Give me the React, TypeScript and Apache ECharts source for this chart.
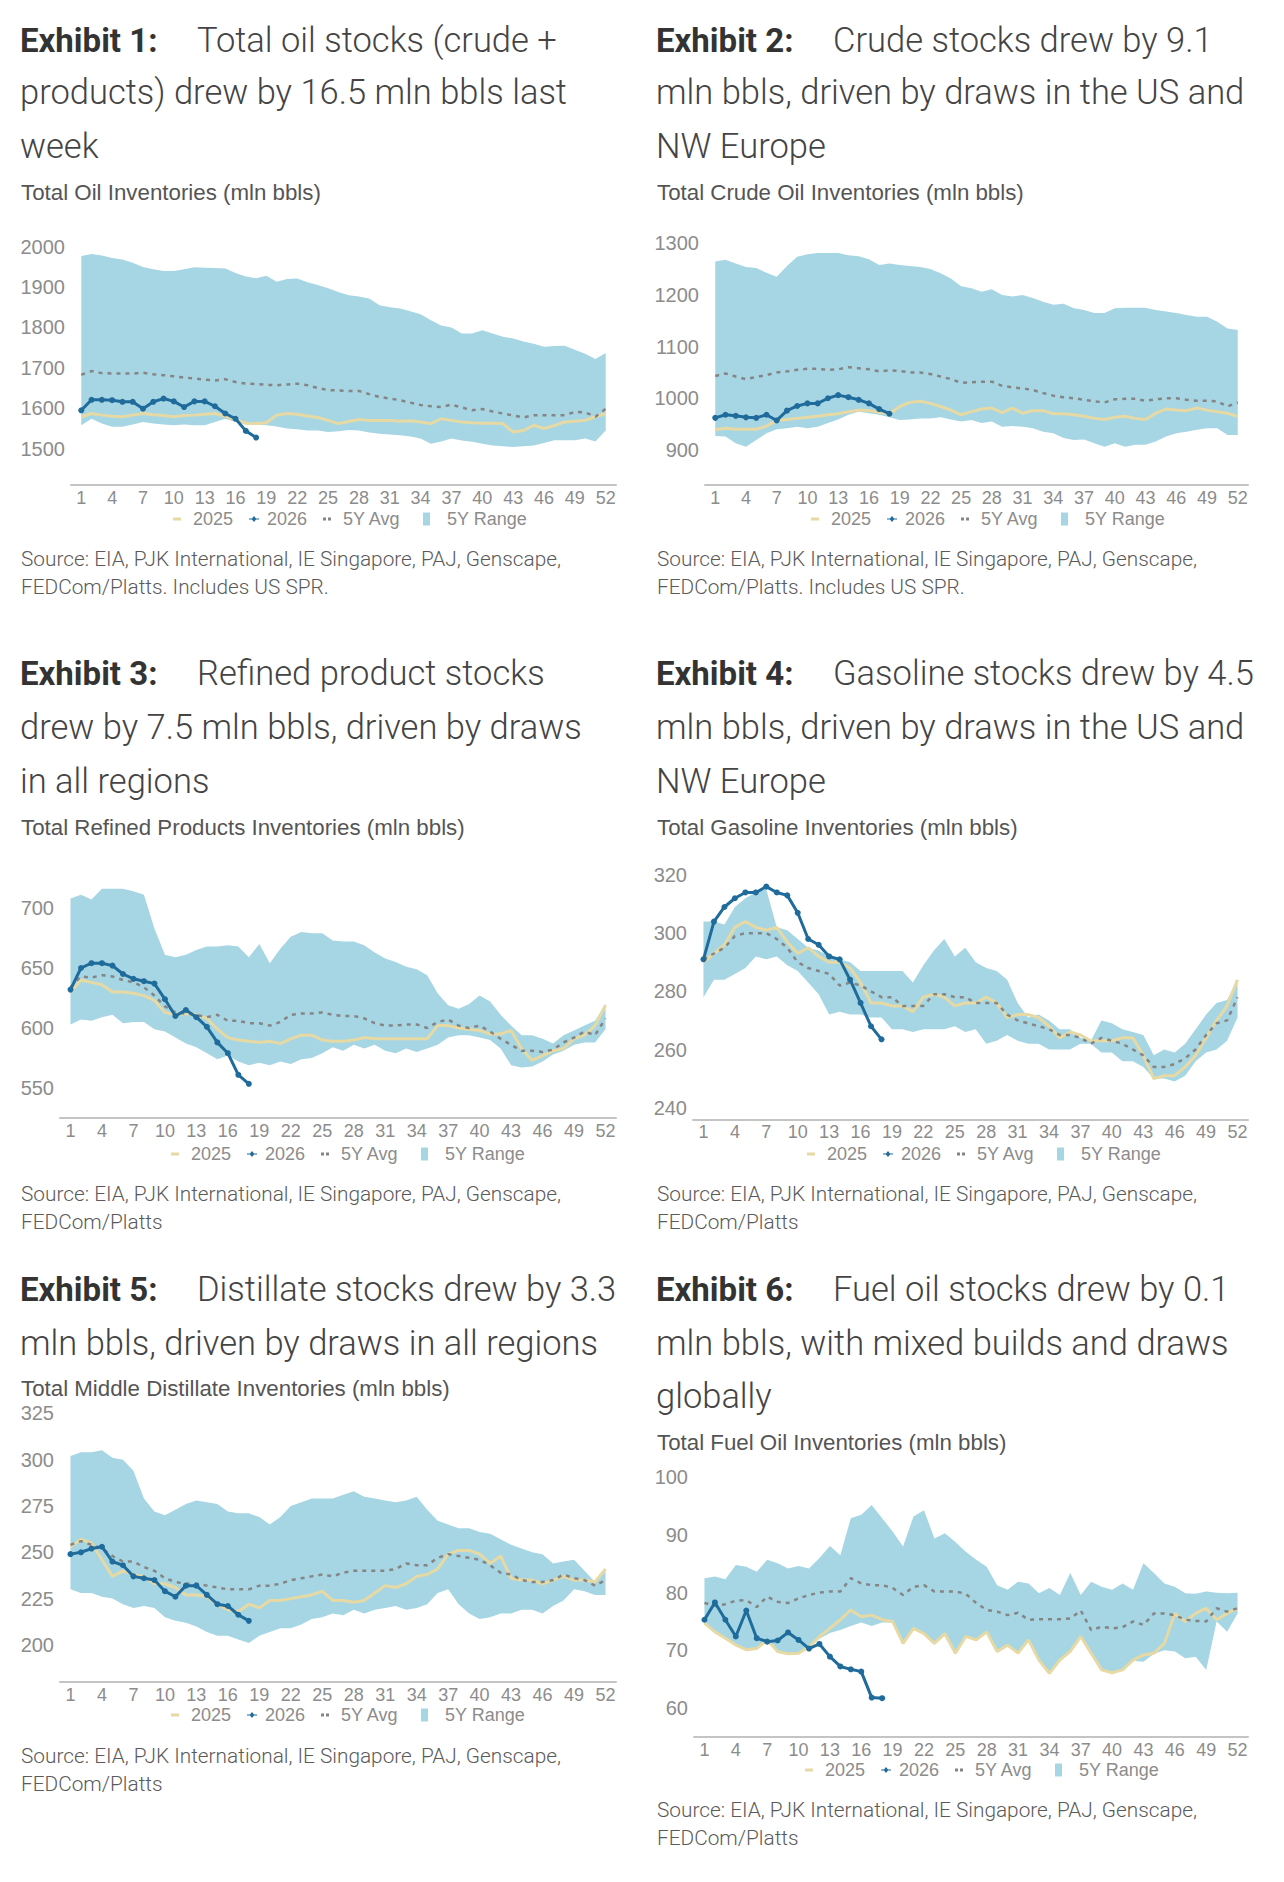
import { useEffect, useRef } from "react";
import * as echarts from "echarts";

// ---- week axis ----
const weeks = Array.from({ length: 52 }, (_, i) => i + 1);
const weekTicks = [1, 4, 7, 10, 13, 16, 19, 22, 25, 28, 31, 34, 37, 40, 43, 46, 49, 52];

// ---- Exhibit 1: total oil (mln bbls) ----
const oilTicks = [1500, 1600, 1700, 1800, 1900, 2000];
const oilHigh = [1977, 1982, 1978, 1972, 1968, 1960, 1950, 1944, 1940, 1940, 1944, 1949, 1948, 1947, 1946, 1935, 1926, 1922, 1928, 1913, 1920, 1921, 1912, 1905, 1897, 1888, 1880, 1877, 1872, 1855, 1850, 1847, 1840, 1833, 1818, 1805, 1800, 1785, 1785, 1793, 1785, 1777, 1773, 1765, 1760, 1752, 1754, 1755, 1745, 1735, 1722, 1737];
const oilLow = [1558, 1574, 1562, 1554, 1554, 1560, 1566, 1562, 1560, 1558, 1560, 1558, 1558, 1566, 1574, 1566, 1560, 1560, 1558, 1555, 1550, 1548, 1545, 1545, 1541, 1543, 1546, 1545, 1540, 1537, 1535, 1533, 1530, 1525, 1512, 1518, 1525, 1520, 1517, 1512, 1508, 1506, 1504, 1506, 1508, 1514, 1521, 1521, 1521, 1525, 1518, 1545];
const oilAvg = [1683, 1692, 1687, 1686, 1686, 1686, 1688, 1684, 1682, 1679, 1676, 1674, 1671, 1669, 1672, 1665, 1661, 1660, 1658, 1657, 1659, 1661, 1657, 1650, 1645, 1644, 1643, 1643, 1635, 1628, 1624, 1620, 1614, 1608, 1605, 1603, 1609, 1602, 1595, 1598, 1592, 1587, 1582, 1577, 1583, 1583, 1583, 1583, 1591, 1590, 1579, 1599];
const oil2025 = [1579, 1587, 1583, 1580, 1579, 1583, 1587, 1584, 1582, 1579, 1582, 1583, 1585, 1587, 1580, 1572, 1563, 1562, 1564, 1583, 1587, 1585, 1581, 1577, 1570, 1562, 1567, 1572, 1570, 1570, 1570, 1568, 1569, 1566, 1562, 1574, 1570, 1566, 1564, 1563, 1563, 1562, 1541, 1545, 1558, 1550, 1557, 1566, 1568, 1570, 1579, 1587];
const oil2026 = [1595, 1621, 1621, 1620, 1616, 1616, 1599, 1616, 1624, 1617, 1603, 1617, 1617, 1605, 1587, 1574, 1544, 1527.5];

// ---- Exhibit 2: crude ----
const crudeTicks = [900, 1000, 1100, 1200, 1300];
const crudeHigh = [1265, 1268, 1261, 1254, 1252, 1243, 1235, 1256, 1274, 1279, 1281, 1281, 1281, 1277, 1275, 1269, 1258, 1261, 1258, 1256, 1254, 1250, 1242, 1232, 1217, 1213, 1206, 1211, 1200, 1197, 1200, 1194, 1187, 1181, 1183, 1174, 1171, 1165, 1165, 1174, 1175, 1175, 1175, 1171, 1168, 1165, 1161, 1158, 1158, 1148, 1135, 1132];
const crudeLow = [927, 926, 913, 906, 919, 932, 940, 942, 945, 942, 945, 952, 959, 968, 974, 971, 968, 963, 958, 959, 961, 961, 963, 959, 955, 958, 952, 955, 945, 946, 945, 942, 935, 932, 923, 919, 920, 913, 906, 913, 906, 910, 910, 916, 926, 932, 935, 939, 942, 942, 929, 929];
const crudeAvg = [1043, 1048, 1042, 1037, 1041, 1045, 1050, 1052, 1055, 1057, 1057, 1055, 1056, 1060, 1058, 1056, 1052, 1054, 1053, 1050, 1050, 1047, 1042, 1037, 1030, 1031, 1032, 1032, 1024, 1021, 1019, 1016, 1010, 1005, 1002, 1000, 997, 994, 992, 998, 999, 999, 995, 998, 1000, 1000, 997, 995, 995, 994, 984, 992];
const crude2025 = [939, 942, 940, 940, 940, 946, 957, 959, 961, 963, 965, 968, 970, 974, 977, 976, 973, 970, 984, 992, 994, 990, 984, 977, 968, 974, 979, 981, 972, 981, 971, 976, 976, 970, 970, 968, 965, 961, 959, 963, 965, 961, 959, 971, 979, 977, 976, 981, 977, 974, 971, 965];
const crude2026 = [962, 968, 966, 963, 962, 968, 957, 976, 985, 990, 990, 1000, 1006, 1002, 997, 990, 979, 970];

// ---- Exhibit 3: refined products ----
const prodTicks = [550, 600, 650, 700];
const prodHigh = [708, 711, 707, 716, 716, 716, 714, 711, 683, 661, 659, 661, 665, 668, 668, 669, 668, 659, 670, 654, 666, 676, 680, 679, 679, 673, 672, 672, 669, 663, 658, 655, 651, 649, 644, 629, 619, 616, 620, 627, 622, 611, 602, 594, 594, 591, 587, 594, 598, 602, 606, 620];
const prodLow = [603, 607, 606, 609, 611, 604, 605, 605, 599, 597, 592, 587, 584, 579, 574, 577, 572, 569, 571, 569, 572, 570, 574, 575, 579, 584, 581, 586, 583, 586, 581, 579, 583, 580, 583, 586, 592, 594, 594, 592, 590, 583, 569, 567, 568, 572, 578, 581, 586, 588, 588, 599];
const prodAvg = [634, 643, 642, 644, 643, 640, 638, 634, 627, 618, 613, 612, 611, 609, 611, 606, 606, 604, 604, 602, 605, 611, 612, 612, 613, 611, 610, 610, 608, 604, 602, 602, 603, 603, 600, 605, 607, 602, 600, 602, 597, 591, 586, 581, 581, 580, 582, 588, 592, 597, 594, 608];
const prod2025 = [630, 640, 638, 636, 630, 630, 629, 627, 623, 613, 611, 612, 611, 608, 599, 592, 590, 589, 588, 589, 587, 591, 594, 594, 590, 589, 589, 590, 592, 591, 591, 591, 591, 591, 591, 602, 602, 600, 599, 598, 595, 595, 598, 583, 573, 577, 581, 583, 591, 594, 602, 619];
const prod2026 = [632, 650, 654, 654, 652, 645, 641, 639, 637, 624, 610, 615, 609, 601, 588, 579, 561, 553.5];

// ---- Exhibit 4: gasoline ----
const gasTicks = [240, 260, 280, 300, 320];
const gasHigh = [304, 304, 303, 309, 312, 314, 315, 302, 301, 298, 295, 294, 292, 291, 290, 287, 287, 287, 287, 287, 283, 289, 294, 298, 292, 295, 290, 288, 287, 284, 276, 271, 272, 270, 267, 267, 264, 263, 270, 269, 267, 266, 265, 258, 260, 259, 262, 267, 272, 276, 277, 284];
const gasLow = [278, 284, 284, 286, 288, 292, 291, 292, 289, 287, 283, 279, 272, 273, 272, 272, 271, 271, 267, 267, 266, 267, 267, 267, 268, 266, 267, 262, 263, 265, 263, 262, 262, 260, 260, 260, 262, 262, 259, 259, 256, 256, 254, 250, 250, 249, 251, 256, 259, 260, 263, 271];
const gasAvg = [291, 293, 295, 299, 300, 300, 300, 298, 295, 290, 288, 287, 286, 282, 283, 282, 280, 278, 278, 275, 275, 275, 279, 279, 278, 278, 276, 276, 276, 272, 270, 269, 268, 267, 265, 265, 264, 262, 264, 263, 262, 260, 258, 254, 254, 255, 257, 260, 265, 269, 270, 278];
const gas2025 = [290, 293, 296, 302, 304, 302, 301, 302, 297, 293, 295, 292, 290, 290, 288, 283, 276, 276, 275, 275, 273, 278, 279, 278, 275, 276, 276, 278, 276, 271, 272, 272, 271, 268, 264, 266, 265, 263, 263, 263, 264, 264, 258, 250, 251, 251, 254, 258, 264, 270, 275, 284];
const gas2026 = [291, 304, 309, 312, 314, 314, 316, 314, 313, 307, 298, 296, 292, 291, 284, 276, 268, 263.5];

// ---- Exhibit 5: middle distillates ----
const distTicks = [200, 225, 250, 275, 300, 325];
const distHigh = [302, 304, 304, 305, 301, 300, 294, 279, 272, 270, 273, 276, 278, 277, 276, 272, 271, 271, 269, 265, 269, 275, 277, 279, 279, 279, 281, 283, 280, 279, 278, 277, 278, 280, 273, 267, 265, 263, 263, 261, 260, 257, 254, 252, 250, 249, 244, 245, 246, 240, 234, 241];
const distLow = [230, 228, 228, 226, 225, 222, 220, 221, 220, 215, 213, 212, 210, 207, 205, 205, 203, 201, 205, 207, 209, 209, 211, 214, 215, 217, 216, 219, 217, 219, 220, 221, 219, 220, 222, 228, 230, 222, 217, 214, 215, 217, 217, 219, 219, 217, 221, 224, 230, 229, 227, 227];
const distAvg = [254, 256, 254, 252, 248, 245, 245, 242, 240, 236, 234, 233, 233, 232, 231, 230, 230, 230, 232, 232, 233, 235, 236, 237, 238, 237, 239, 240, 240, 240, 240, 241, 244, 243, 243, 247, 249, 248, 247, 246, 243, 239, 238, 235, 234, 234, 235, 238, 236, 235, 232, 235];
const dist2025 = [253, 257, 255, 246, 237, 240, 238, 237, 233, 233, 231, 227, 227, 226, 222, 219, 218, 222, 220, 224, 224, 225, 226, 227, 229, 224, 224, 223, 224, 228, 232, 231, 233, 237, 238, 241, 249, 251, 251, 249, 244, 248, 236, 235, 235, 233, 235, 237, 235, 235, 234, 241];
const dist2026 = [249, 250, 252, 253, 245, 243, 237, 236, 235, 229, 226, 232, 232, 227, 222, 221, 216.3, 213];

// ---- Exhibit 6: fuel oil ----
const fuelTicks = [60, 70, 80, 90, 100];
const fuelHigh = [82.5, 82.8, 82.3, 84.8, 84.5, 83.6, 85.7, 85.1, 84.2, 84.6, 84.2, 86.0, 88.1, 86.5, 92.9, 93.5, 95.2, 92.9, 90.6, 88.0, 93.2, 94.3, 89.4, 90.3, 88.8, 87.1, 85.7, 84.5, 81.3, 80.5, 81.9, 81.6, 79.9, 80.8, 79.6, 83.4, 79.6, 81.9, 81.0, 80.5, 81.6, 80.5, 85.1, 83.4, 81.6, 81.0, 79.9, 79.8, 80.2, 80.0, 79.9, 80.0];
const fuelLow = [74.5, 73.0, 72.0, 70.8, 70.0, 70.2, 71.6, 69.7, 69.3, 69.4, 70.5, 72.0, 73.0, 73.5, 74.2, 74.8, 74.2, 74.8, 74.8, 71.1, 73.7, 72.8, 71.1, 72.8, 69.4, 72.3, 71.7, 73.1, 69.7, 70.8, 69.4, 71.7, 68.2, 65.9, 68.2, 69.7, 72.3, 69.4, 66.5, 66.0, 66.5, 68.2, 68.0, 69.4, 70.0, 69.8, 68.6, 68.9, 66.6, 75.0, 73.2, 76.4];
const fuelAvg = [78.2, 77.7, 78.0, 78.6, 78.7, 77.5, 79.3, 78.4, 78.2, 79.0, 79.6, 80.0, 80.2, 80.2, 82.5, 81.6, 81.3, 81.3, 80.8, 79.6, 81.0, 81.3, 80.2, 80.2, 80.2, 79.8, 78.2, 77.0, 76.7, 76.1, 76.5, 75.3, 75.4, 75.4, 75.4, 75.5, 76.9, 73.5, 74.1, 73.8, 74.0, 75.0, 74.4, 76.4, 76.4, 76.1, 75.3, 75.1, 75.0, 77.3, 76.7, 77.3];
const fuel2025 = [74.7, 73.2, 72.1, 70.9, 70.1, 70.3, 71.8, 69.8, 69.4, 69.5, 70.6, 72.4, 73.8, 75.3, 77.0, 75.8, 76.1, 75.3, 75.0, 71.2, 73.8, 72.9, 71.2, 72.9, 69.5, 72.4, 71.8, 73.2, 69.8, 70.9, 69.5, 71.8, 68.3, 66.0, 68.3, 69.8, 72.4, 69.5, 66.6, 66.1, 66.6, 68.3, 69.2, 69.5, 71.2, 76.4, 75.0, 76.4, 77.3, 75.3, 76.4, 77.3];
const fuel2026 = [75.3, 78.3, 75.3, 72.4, 76.9, 72.1, 71.5, 71.7, 73.1, 71.8, 70.3, 71.1, 68.9, 67.2, 66.7, 66.3, 61.8, 61.7];

// ---- text ----
const exhibitLabels = ["Exhibit 1:", "Exhibit 2:", "Exhibit 3:", "Exhibit 4:", "Exhibit 5:", "Exhibit 6:"];
const exhibitLines = [
  ["Total oil stocks (crude +", "products) drew by 16.5 mln bbls last", "week"],
  ["Crude stocks drew by 9.1", "mln bbls, driven by draws in the US and", "NW Europe"],
  ["Refined product stocks", "drew by 7.5 mln bbls, driven by draws", "in all regions"],
  ["Gasoline stocks drew by 4.5", "mln bbls, driven by draws in the US and", "NW Europe"],
  ["Distillate stocks drew by 3.3", "mln bbls, driven by draws in all regions"],
  ["Fuel oil stocks drew by 0.1", "mln bbls, with mixed builds and draws", "globally"],
];
const chartTitles = [
  "Total Oil Inventories (mln bbls)",
  "Total Crude Oil Inventories (mln bbls)",
  "Total Refined Products Inventories (mln bbls)",
  "Total Gasoline Inventories (mln bbls)",
  "Total Middle Distillate Inventories (mln bbls)",
  "Total Fuel Oil Inventories (mln bbls)",
];
const sourceLine1 = "Source: EIA, PJK International, IE Singapore, PAJ, Genscape,";
const sourceLine2 = [
  "FEDCom/Platts. Includes US SPR.",
  "FEDCom/Platts. Includes US SPR.",
  "FEDCom/Platts",
  "FEDCom/Platts",
  "FEDCom/Platts",
  "FEDCom/Platts",
];
const legendNames = ["2025", "2026", "5Y Avg", "5Y Range"];

// ---- styling ----
const BAND = "#a6d6e3";
const C2025 = "#e6d9a4";
const C2026 = "#1f6b9b";
const CAVG = "#858585";
const AXIS_TXT = "#8c8c8c";
const LABEL_FONT = "'Liberation Sans', Arial, sans-serif";
const HEAD_FONT = "Roboto, 'Noto Sans', sans-serif";

// legend key glyphs: offset from the row start, glyph, glyph box and gap to the text
const legendKeys = [
  { dx: 0, icon: "rect", w: 8, h: 3, pad: 7 },
  { dx: 76, icon: "path://M0 2.4H3L5 0L7 2.4H10V3.6H7L5 6L3 3.6H0Z", w: 10, h: 6, pad: 3 },
  { dx: 150, icon: "path://M0 0H3V3H0Z M5 0H8V3H5Z", w: 8, h: 3, pad: 7 },
  { dx: 250, icon: "rect", w: 7, h: 13, pad: 12 },
];

type Panel = {
  col: number;
  grid: { left: number; top: number; width: number; height: number };
  yMin: number;
  yMax: number;
  yStep: number;
  ticks: number[];
  high: number[];
  low: number[];
  avg: number[];
  y25: number[];
  y26: number[];
  headY: number[];
  titleY: number;
  sourceY: number;
  legend: { left: number; midY: number };
};

const panels: Panel[] = [
  {
    col: 0, grid: { left: 71, top: 246.7, width: 545, height: 238.3 },
    yMin: 1410, yMax: 2000, yStep: 10, ticks: oilTicks,
    high: oilHigh, low: oilLow, avg: oilAvg, y25: oil2025, y26: oil2026,
    headY: [40, 92, 146], titleY: 192, sourceY: 559, legend: { left: 168, midY: 516 },
  },
  {
    col: 1, grid: { left: 705, top: 243.3, width: 543, height: 241.7 },
    yMin: 832, yMax: 1300, yStep: 4, ticks: crudeTicks,
    high: crudeHigh, low: crudeLow, avg: crudeAvg, y25: crude2025, y26: crude2026,
    headY: [40, 92, 146], titleY: 192, sourceY: 559, legend: { left: 806, midY: 516 },
  },
  {
    col: 0, grid: { left: 60, top: 878, width: 556, height: 240 },
    yMin: 525, yMax: 725, yStep: 25, ticks: prodTicks,
    high: prodHigh, low: prodLow, avg: prodAvg, y25: prod2025, y26: prod2026,
    headY: [673, 727, 781], titleY: 827, sourceY: 1194, legend: { left: 166, midY: 1151 },
  },
  {
    col: 1, grid: { left: 693, top: 875, width: 555, height: 244.3 },
    yMin: 236, yMax: 320, yStep: 4, ticks: gasTicks,
    high: gasHigh, low: gasLow, avg: gasAvg, y25: gas2025, y26: gas2026,
    headY: [673, 727, 781], titleY: 827, sourceY: 1194, legend: { left: 802, midY: 1151 },
  },
  {
    col: 0, grid: { left: 60, top: 1413.3, width: 556, height: 268.7 },
    yMin: 180, yMax: 325, yStep: 5, ticks: distTicks,
    high: distHigh, low: distLow, avg: distAvg, y25: dist2025, y26: dist2026,
    headY: [1289, 1343], titleY: 1388, sourceY: 1756, legend: { left: 166, midY: 1712 },
  },
  {
    col: 1, grid: { left: 694, top: 1477.3, width: 554, height: 259.5 },
    yMin: 55, yMax: 100, yStep: 5, ticks: fuelTicks,
    high: fuelHigh, low: fuelLow, avg: fuelAvg, y25: fuel2025, y26: fuel2026,
    headY: [1289, 1343, 1396], titleY: 1442, sourceY: 1810, legend: { left: 800, midY: 1767 },
  },
];

const colX = [20, 656];

function pairs(values: number[]) {
  return values.map((v, i) => [weeks[i], v]);
}

function buildOption() {
  const grid: any[] = [];
  const xAxis: any[] = [];
  const yAxis: any[] = [];
  const series: any[] = [];
  const legend: any[] = [];
  const graphic: any[] = [];

  panels.forEach((p, i) => {
    grid.push({ ...p.grid, containLabel: false, outerBoundsMode: "none" });
    xAxis.push({
      type: "value",
      gridIndex: i,
      min: 0,
      max: 53,
      interval: 1,
      axisLine: { show: true, lineStyle: { color: "#c4c4c4", width: 2 } },
      axisTick: { show: false },
      splitLine: { show: false },
      axisLabel: {
        margin: 4,
        fontSize: 18,
        color: AXIS_TXT,
        fontFamily: LABEL_FONT,
        formatter: (v: number) => (weekTicks.includes(v) ? String(v) : ""),
      },
    });
    yAxis.push({
      type: "value",
      gridIndex: i,
      min: p.yMin,
      max: p.yMax,
      interval: p.yStep,
      axisLine: { show: false },
      axisTick: { show: false },
      splitLine: { show: false },
      axisLabel: {
        margin: 6,
        fontSize: 20,
        color: AXIS_TXT,
        fontFamily: LABEL_FONT,
        formatter: (v: number) => (p.ticks.includes(v) ? String(v) : ""),
      },
    });

    // 5-year range band: one polygon from the high and low series
    series.push({
      type: "custom",
      name: "5Y Range",
      xAxisIndex: i,
      yAxisIndex: i,
      silent: true,
      itemStyle: { color: BAND },
      data: weeks.map((w, k) => [w, p.low[k], p.high[k]]),
      encode: { x: 0, y: [1, 2] },
      renderItem: (params: any, api: any) => {
        if (params.dataIndex !== 0) return null;
        const upper = p.high.map((v, k) => api.coord([weeks[k], v]));
        const lower = p.low.map((v, k) => api.coord([weeks[k], v])).reverse();
        return {
          type: "polygon",
          shape: { points: upper.concat(lower) },
          style: { fill: BAND },
          silent: true,
        };
      },
    });
    series.push({
      type: "line",
      name: "2025",
      xAxisIndex: i,
      yAxisIndex: i,
      data: pairs(p.y25),
      symbol: "none",
      itemStyle: { color: C2025 },
      lineStyle: { color: C2025, width: 3 },
    });
    series.push({
      type: "line",
      name: "5Y Avg",
      xAxisIndex: i,
      yAxisIndex: i,
      data: pairs(p.avg),
      symbol: "none",
      itemStyle: { color: CAVG },
      lineStyle: { color: CAVG, width: 2.5, type: [4, 5] },
    });
    series.push({
      type: "line",
      name: "2026",
      xAxisIndex: i,
      yAxisIndex: i,
      data: pairs(p.y26),
      symbol: "circle",
      symbolSize: 6,
      showSymbol: true,
      itemStyle: { color: C2026 },
      lineStyle: { color: C2026, width: 3 },
    });

    // one legend block per key so each glyph keeps its own size
    legendKeys.forEach((k, n) => {
      legend.push({
        left: p.legend.left + k.dx,
        top: p.legend.midY - 11,
        orient: "horizontal",
        itemWidth: k.w,
        itemHeight: k.h,
        selectedMode: false,
        textStyle: {
          fontSize: 18,
          color: AXIS_TXT,
          fontFamily: LABEL_FONT,
          padding: [0, 0, 0, k.pad],
        },
        data: [{ name: legendNames[n], icon: k.icon }],
      });
    });

    // exhibit heading
    const x0 = colX[p.col];
    graphic.push({
      type: "text",
      x: x0,
      y: p.headY[0],
      style: {
        text: exhibitLabels[i],
        fill: "#333333",
        fontSize: 33,
        fontWeight: "bold",
        fontFamily: HEAD_FONT,
        verticalAlign: "middle",
      },
    });
    exhibitLines[i].forEach((line, k) => {
      graphic.push({
        type: "text",
        x: k === 0 ? x0 + 177 : x0,
        y: p.headY[k],
        style: {
          text: line,
          fill: "#444444",
          fontSize: 34.5,
          fontWeight: 300,
          fontFamily: HEAD_FONT,
          verticalAlign: "middle",
        },
      });
    });
    graphic.push({
      type: "text",
      x: x0 + 1,
      y: p.titleY,
      style: {
        text: chartTitles[i],
        fill: "#555555",
        fontSize: 22.3,
        fontFamily: LABEL_FONT,
        verticalAlign: "middle",
      },
    });
    [sourceLine1, sourceLine2[i]].forEach((line, k) => {
      graphic.push({
        type: "text",
        x: x0 + 1,
        y: p.sourceY + k * 27.5,
        style: {
          text: line,
          fill: "#5a5a5a",
          fontSize: 20.8,
          fontWeight: 300,
          fontFamily: HEAD_FONT,
          verticalAlign: "middle",
        },
      });
    });
  });

  return {
    animation: false,
    backgroundColor: "#ffffff",
    textStyle: { fontFamily: LABEL_FONT },
    grid,
    xAxis,
    yAxis,
    legend,
    series,
    graphic,
  };
}

export default function App() {
  const ref = useRef<HTMLDivElement>(null);

  useEffect(() => {
    if (!ref.current) return;
    const chart = echarts.init(ref.current, null, { renderer: "svg" });
    chart.setOption(buildOption() as any);
    return () => chart.dispose();
  }, []);

  return (
    <div
      ref={ref}
      style={{ position: "absolute", left: 0, top: 0, width: 1284, height: 1882 }}
    />
  );
}
